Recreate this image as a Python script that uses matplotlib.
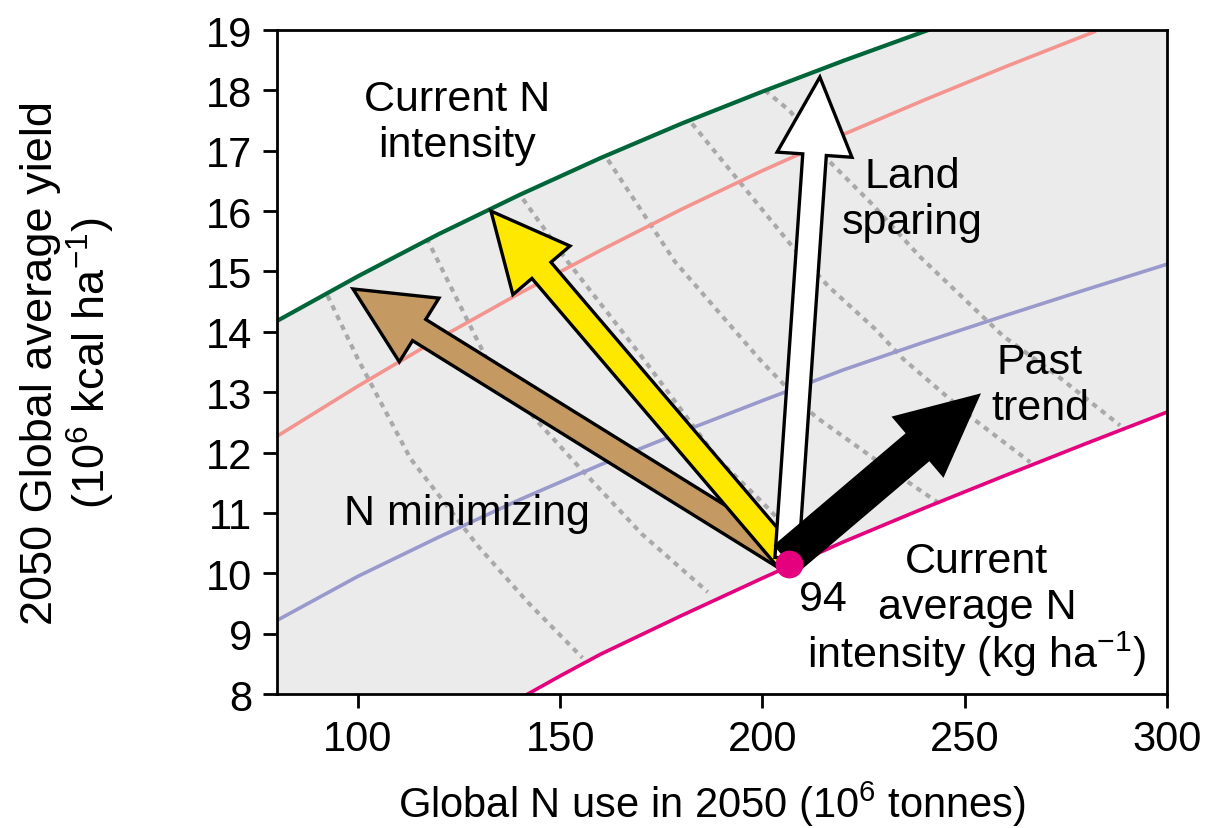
#!/usr/bin/env python3
"""Global N use vs 2050 yield: iso-intensity curves and scenario arrows."""

import matplotlib
matplotlib.use("Agg")
import matplotlib.pyplot as plt
from matplotlib.patches import FancyArrowPatch, Polygon

plt.rcParams["font.family"] = ["Liberation Sans", "DejaVu Sans"]
plt.rcParams["mathtext.fontset"] = "custom"
plt.rcParams["mathtext.rm"] = "Liberation Sans"
plt.rcParams["mathtext.it"] = "Liberation Sans"

# N intensity curves (x = global N use, y = yield)
green_n = [80, 100, 120, 140, 160, 180, 200, 220, 241]
green_y = [14.18, 14.92, 15.62, 16.27, 16.88, 17.45, 17.98, 18.49, 19.0]

salmon_n = [80, 100, 120, 140, 160, 180, 200, 220, 240, 260, 282]
salmon_y = [12.27, 13.1, 13.89, 14.64, 15.35, 16.03, 16.67, 17.27, 17.84, 18.39, 18.97]

blue_n = [80, 100, 120, 140, 160, 180, 200, 220, 240, 260, 280, 300]
blue_y = [9.22, 9.95, 10.6, 11.22, 11.8, 12.34, 12.86, 13.37, 13.83, 14.27, 14.7, 15.12]

magenta_n = [142, 150, 160, 180, 200, 220, 240, 260, 280, 300]
magenta_y = [8.0, 8.3, 8.66, 9.3, 9.92, 10.52, 11.08, 11.62, 12.15, 12.67]

# dotted iso-lines
iso_lines = [
    ([92.5, 100, 113, 129.7, 142, 155.5], [14.6, 13.55, 11.9, 10.45, 9.52, 8.6]),
    ([117, 132.2, 143.8, 154.4, 170.2, 186.5], [15.55, 13.5, 12.56, 11.78, 10.65, 9.69]),
    ([140.8, 151.9, 169.7, 189, 199.9, 205.6], [16.2, 15.16, 13.63, 11.89, 11.18, 10.78]),
    ([161.8, 178.4, 199.9, 213, 227.8, 243.2], [16.85, 15.16, 13.5, 12.6, 11.89, 11.18]),
    ([182.6, 207.3, 216.2, 227.8, 234.8, 251.3, 266.2], [17.45, 15.42, 14.76, 14.05, 13.55, 12.6, 11.84]),
    ([200.6, 206.8, 216, 226.6, 239, 259.5, 271.8, 288.4], [18.0, 17.66, 16.86, 16.15, 15.24, 13.93, 13.33, 12.45]),
]

# current point and scenario arrow tips
current = (206.5, 10.15)
arrow_base = (206.0, 10.25)
tips = {
    "brown": (98.8, 14.71),
    "yellow": (132.9, 16.0),
    "white": (214.2, 18.22),
    "black": (253.3, 12.94),
}


def add_arrow(ax, tip, color, tail_w, z):
    style = f"simple,head_length=5.6,head_width=5.4,tail_width={tail_w}"
    p = FancyArrowPatch(arrow_base, tip, arrowstyle=style, mutation_scale=10,
                        fc=color, ec="black", lw=2.4, shrinkA=0, shrinkB=0,
                        zorder=z, joinstyle="miter")
    ax.add_patch(p)


def main() -> None:
    fig = plt.figure(figsize=(12.17, 8.29), dpi=100)
    ax = fig.add_axes([0.2276, 0.1616, 0.7313, 0.801])

    # gray band between the green and magenta curves
    verts = ([(80, 8)] + list(zip(green_n, green_y)) + [(300, 19)]
             + list(zip(magenta_n, magenta_y))[::-1])
    ax.add_patch(Polygon(verts, closed=True, fc="#ebebeb", ec="none", zorder=0))

    for xs, ys in iso_lines:
        ax.plot(xs, ys, color="#a9a9a9", lw=3, ls=(0, (1.3, 1.3)), zorder=1)

    ax.plot(green_n, green_y, color="#00663a", lw=3, zorder=2)
    ax.plot(salmon_n, salmon_y, color="#f4948f", lw=2.6, zorder=2)
    ax.plot(blue_n, blue_y, color="#9999cc", lw=2.6, zorder=2)
    ax.plot(magenta_n, magenta_y, color="#e5007d", lw=2.6, zorder=2)

    add_arrow(ax, tips["brown"], "#c49a62", 1.8, 3)
    add_arrow(ax, tips["yellow"], "#ffe800", 1.8, 4)
    add_arrow(ax, tips["white"], "white", 1.7, 5)
    add_arrow(ax, tips["black"], "black", 2.4, 6)
    ax.plot(*current, "o", color="#e5007d", ms=19, zorder=7)

    fs = 31
    ax.text(124.5, 17.48, "Current N\nintensity", fontsize=fs, ha="center", va="center")
    ax.text(237, 16.2, "Land\nsparing", fontsize=fs, ha="center", va="center")
    ax.text(268.6, 13.12, "Past\ntrend", fontsize=fs, ha="center", va="center")
    ax.text(127, 11.0, "N minimizing", fontsize=fs, ha="center", va="center")
    ax.text(253, 10.2, "Current", fontsize=fs, ha="center", va="center")
    ax.text(253, 9.45, "average N", fontsize=fs, ha="center", va="center")
    ax.text(253, 8.68, "intensity (kg ha$^{\\mathregular{-1}}$)", fontsize=fs,
            ha="center", va="center")
    ax.text(215, 9.57, "94", fontsize=fs, ha="center", va="center")

    ax.set_xlim(80, 300)
    ax.set_ylim(8, 19)
    ax.set_xticks([100, 150, 200, 250, 300])
    ax.set_yticks(range(8, 20))
    ax.tick_params(direction="out", length=10, width=2, labelsize=30, pad=8)
    for s in ax.spines.values():
        s.set_linewidth(2)

    ax.set_xlabel("Global N use in 2050 (10$^{\\mathregular{6}}$ tonnes)", fontsize=30)
    ax.xaxis.set_label_coords(0.489, -0.128)
    ax.set_ylabel("2050 Global average yield\n(10$^{\\mathregular{6}}$ kcal ha$^{\\mathregular{-1}}$)",
                  fontsize=32.5, linespacing=1.1)
    ax.yaxis.set_label_coords(-0.18, 0.5)

    fig.savefig("out.png", dpi=100)


if __name__ == "__main__":
    main()
